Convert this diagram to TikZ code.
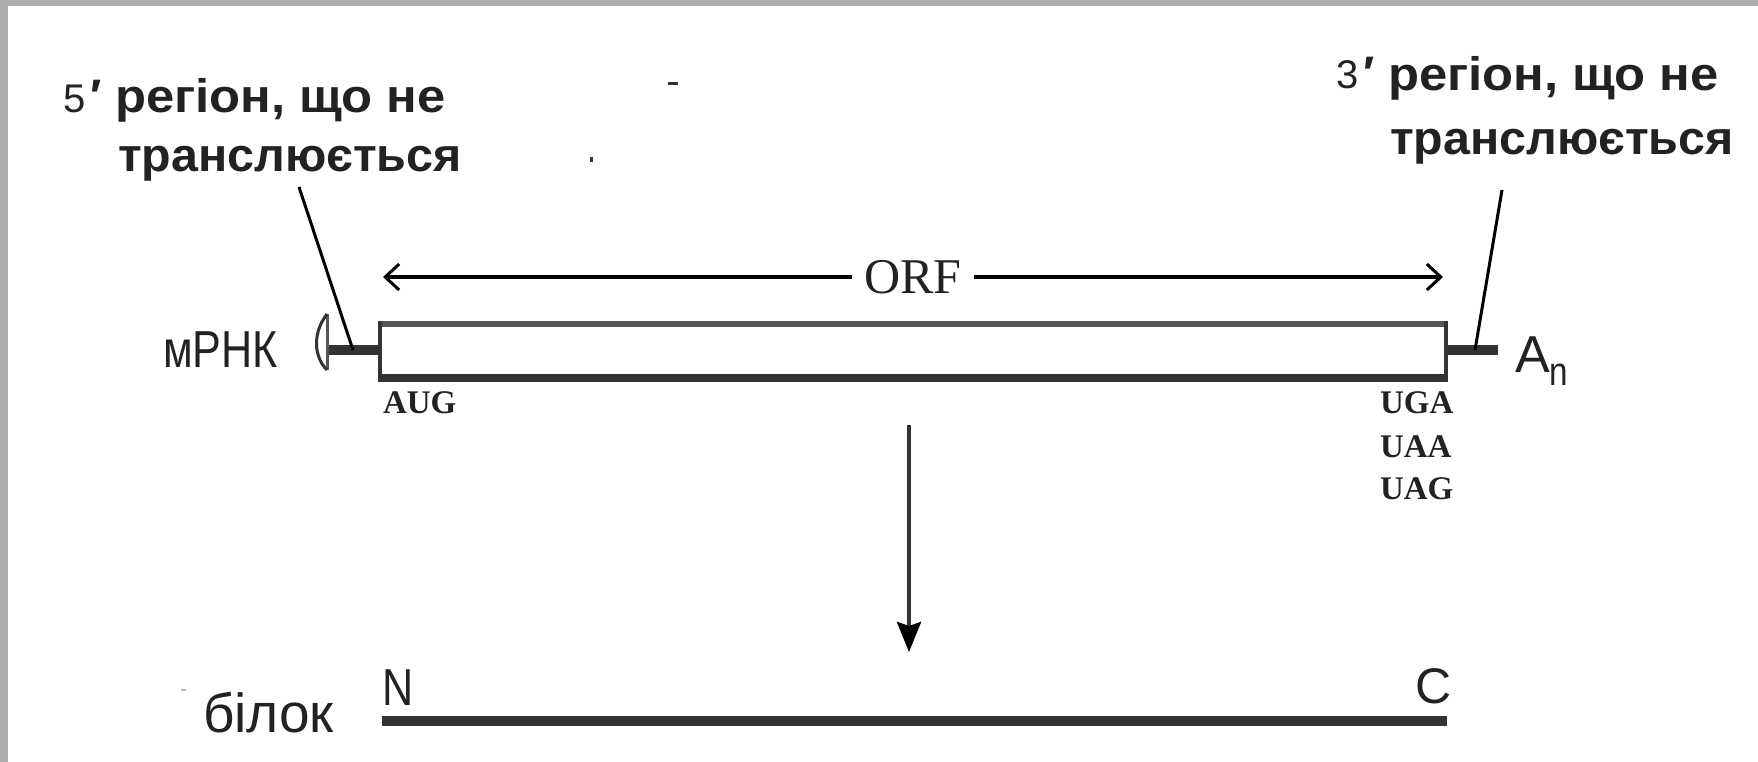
\documentclass[tikz,border=0pt]{standalone}
\usepackage{fontspec}
\usepackage{graphicx}
\setmainfont{Liberation Serif}
\setsansfont{Liberation Sans}
\newfontfamily\sansn[FakeStretch=0.83]{Liberation Sans}
\newfontfamily\labA[FakeStretch=1.08]{Liberation Sans}
\newfontfamily\labB[FakeStretch=1.03]{Liberation Sans}
\usetikzlibrary{arrows.meta}
\definecolor{bordergray}{HTML}{ADADAD}
\definecolor{dk}{HTML}{333333}
\definecolor{md}{HTML}{555555}
\definecolor{txt}{HTML}{222222}
\definecolor{speck}{HTML}{BBBBBB}
\tikzset{
  every node/.style={inner sep=0pt, outer sep=0pt, text=txt},
  lblA/.style={font=\fontsize{47}{56}\selectfont\labA\bfseries, anchor=base west},
  lblB/.style={font=\fontsize{47}{56}\selectfont\labB\bfseries, anchor=base west},
  primemark/.style={font=\fontsize{47}{56}\selectfont\sffamily\bfseries, anchor=base west},
  digit/.style={font=\fontsize{40}{48}\selectfont\sffamily, anchor=base west},
  codon/.style={font=\fontsize{33}{40}\selectfont\rmfamily\bfseries, anchor=base west},
  leader/.style={line width=3pt, black},
  utr/.style={line width=10pt, dk},
}
\begin{document}
\begin{tikzpicture}[x=1pt, y=-1pt]
\useasboundingbox (0,0) rectangle (1758,762);
\fill[white] (0,0) rectangle (1758,762);
\fill[bordergray] (0,0) rectangle (1758,6);
\fill[bordergray] (0,0) rectangle (8,762);

% left label
\node[digit] (d5) at (63,113) {5};
\node[primemark] (p5) at (90,113) {′};
\node[lblA] (l5a) at (115,113) {регіон, що не};
\node[lblB] (l5b) at (118,172) {транслюється};
% right label
\node[digit] (d3) at (1336,89) {3};
\node[primemark] (p3) at (1363,90) {′};
\node[lblA] (l3a) at (1388,91) {регіон, що не};
\node[lblB] (l3b) at (1390,155) {транслюється};

% ORF box
\node[minimum width=1070pt, minimum height=61pt] (box) at (913,351.5) {};
\fill[white] (box.north west) rectangle (box.south east);
\fill[md] (box.north west) rectangle ([yshift=-6pt]box.north east);
\fill[dk] ([yshift=8pt]box.south west) rectangle (box.south east);
\draw[dk, line width=4pt] ([xshift=2pt]box.north west) -- ([xshift=2pt]box.south west);
\draw[dk, line width=4pt] ([xshift=-2pt]box.north east) -- ([xshift=-2pt]box.south east);

% UTR bars and cap
\coordinate (capR) at (327,350);
\coordinate (tail) at (1498,350);
\draw[utr] (capR) -- (box.west |- capR);
\draw[utr] (box.east |- tail) -- (tail);
\draw[md, line width=3pt] (327,314) -- (327,370);
\draw[dk, line width=3pt] (327,314) .. controls (313,332) and (313,356) .. (327,370);

% leaders
\coordinate (lead5) at (353,350);
\coordinate (lead3) at (1475,350);
\coordinate (top5) at (299,187);
\coordinate (top3) at (1502,190);
\draw[leader] (top5) -- (lead5);
\draw[leader] (top3) -- (lead3);

% ORF arrow
\coordinate (orfL) at (383,277);
\coordinate (orfR) at (1443,277);
\draw[line width=4pt, {Straight Barb[length=14pt,width=26pt,line width=3pt]}-{Straight Barb[length=14pt,width=26pt,line width=3pt]}]
  (orfL) -- node[fill=white, inner xsep=12pt, inner ysep=4pt, font=\fontsize{50}{60}\selectfont\rmfamily] (orf) {ORF} (orfR);

% labels
\node[font=\fontsize{52}{60}\selectfont\sansn, anchor=base west] (mrna) at (163,367) {мРНК};
\node[font=\fontsize{52}{60}\selectfont\sffamily, anchor=base west] (an) at (1515,372) {A\raisebox{-13pt}{\fontsize{40}{40}\selectfont\sansn n}};
\node[codon] (aug) at (383,413) {AUG};
\node[codon] (uga) at (1380,413) {UGA};
\node[codon] (uaa) at (1380,457) {UAA};
\node[codon] (uag) at (1380,499) {UAG};

% translation arrow
\coordinate (tr1) at (909,425);
\coordinate (tr2) at (909,652);
\draw[line width=4pt, dk, -{Stealth[length=30pt,width=24pt,inset=4pt,black]}] (tr1) -- (tr2);

% protein
\coordinate (pN) at (382,721);
\coordinate (pC) at (1447,721);
\draw[line width=10pt, dk] (pN) -- (pC);
\node[font=\fontsize{52}{60}\selectfont\sansn, anchor=base west] (nterm) at (382,705) {N};
\node[font=\fontsize{50}{60}\selectfont\sffamily, anchor=base west] (cterm) at (1415,703) {C};
\node[font=\fontsize{55}{60}\selectfont\sffamily, anchor=base west] (prot) at (203,732) {білок};

% stray marks
\fill[dk] (668,82) rectangle (678,85);
\fill[dk] (590,157) rectangle (593,162);
\fill[speck] (181,689) rectangle (186,691);
\end{tikzpicture}
\end{document}
